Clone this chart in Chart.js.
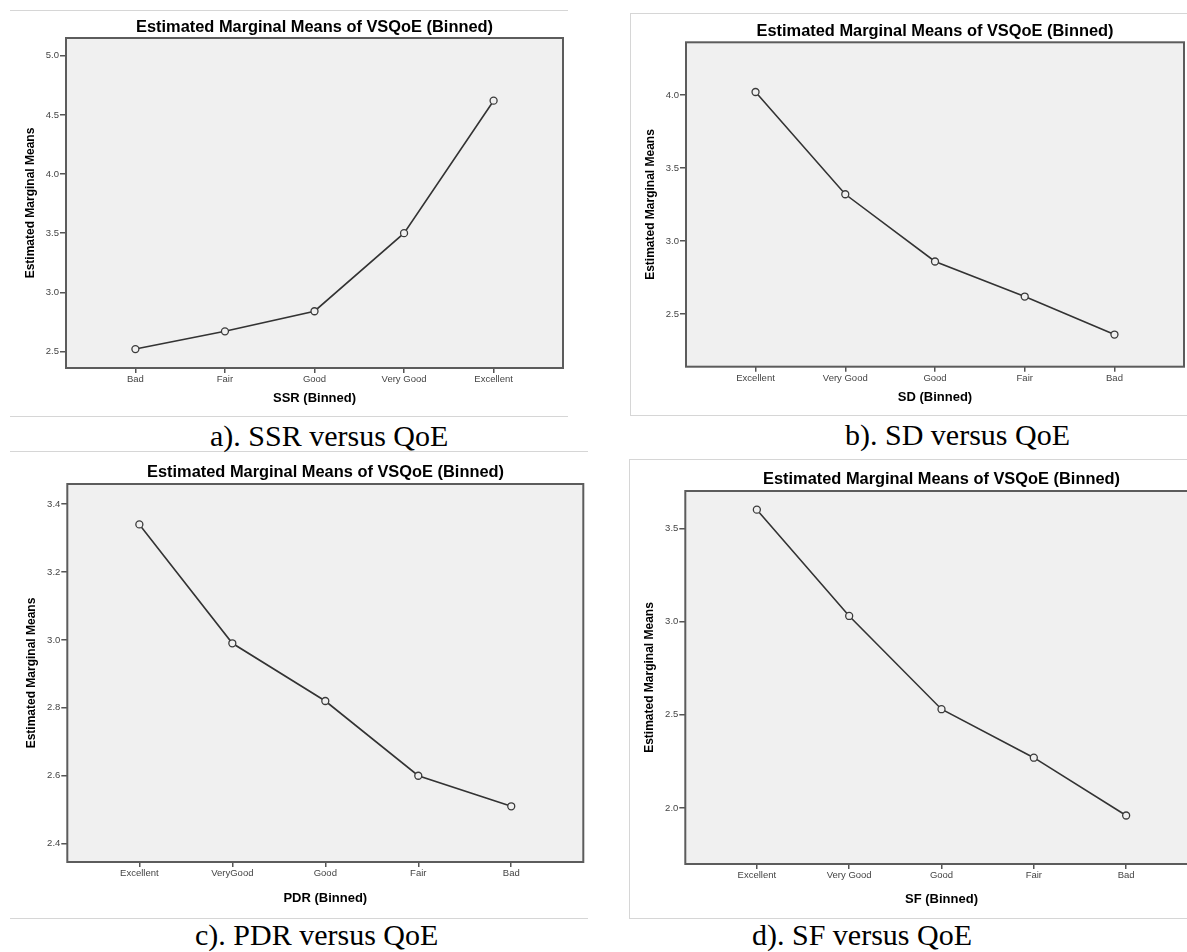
<!DOCTYPE html>
<html>
<head>
<meta charset="utf-8">
<title>Estimated Marginal Means of VSQoE</title>
<script src="https://cdn.jsdelivr.net/npm/chart.js@4.4.0/dist/chart.umd.min.js"></script>
<style>
    html, body {
        margin: 0;
        padding: 0;
        background: #fff;
        width: 1187px;
        height: 952px;
        overflow: hidden;
    }
    body { position: relative; }
    canvas { position: absolute; }
    .rule {
        position: absolute;
        border: 0 solid #d6d6d6;
    }
    .caption {
        position: absolute;
        font-family: 'Liberation Serif', 'Times New Roman', serif;
        font-size: 30px;
        line-height: 1;
        color: #000;
        white-space: nowrap;
    }
</style>
</head>
<body>

<div class="rule" style="left:10px; top:10px; width:558px; height:405px; border-top-width:1px; border-bottom-width:1px;"></div>
<div class="rule" style="left:630px; top:13px; width:600px; height:401px; border-width:1px 0 1px 1px;"></div>
<div class="rule" style="left:10px; top:451px; width:578px; height:466px; border-top-width:1px; border-bottom-width:1px;"></div>
<div class="rule" style="left:629px; top:459px; width:600px; height:458px; border-width:1px 0 1px 1px;"></div>

<div class="caption" style="left:210px; top:421px;">a). SSR versus QoE</div>
<div class="caption" style="left:845px; top:420px;">b). SD versus QoE</div>
<div class="caption" style="left:195px; top:920px;">c). PDR versus QoE</div>
<div class="caption" style="left:752px; top:920px;">d). SF versus QoE</div>

<script>
// Chart Data
const ssrLabels = ['Bad', 'Fair', 'Good', 'Very Good', 'Excellent'];
const ssrMeans = [2.52, 2.67, 2.84, 3.50, 4.62];
const ssrTicks = [2.5, 3.0, 3.5, 4.0, 4.5, 5.0];

const sdLabels = ['Excellent', 'Very Good', 'Good', 'Fair', 'Bad'];
const sdMeans = [4.02, 3.32, 2.86, 2.62, 2.36];
const sdTicks = [2.5, 3.0, 3.5, 4.0];

const pdrLabels = ['Excellent', 'VeryGood', 'Good', 'Fair', 'Bad'];
const pdrMeans = [3.34, 2.99, 2.82, 2.60, 2.51];
const pdrTicks = [2.4, 2.6, 2.8, 3.0, 3.2, 3.4];

const sfLabels = ['Excellent', 'Very Good', 'Good', 'Fair', 'Bad'];
const sfMeans = [3.60, 3.03, 2.53, 2.27, 1.96];
const sfTicks = [2.0, 2.5, 3.0, 3.5];

const chartTitle = 'Estimated Marginal Means of VSQoE (Binned)';
const yTitle = 'Estimated Marginal Means';

const FONT = "'Liberation Sans', Arial, sans-serif";
const TITLE_SIZE = 16.4;
const YTITLE_SIZE = 12;
const XTITLE_SIZE = 13;

// grey plot background + dark frame, like the SPSS output
const plotFrame = {
    id: 'plotFrame',
    beforeDraw(chart) {
        const { ctx, chartArea: a } = chart;
        ctx.save();
        ctx.fillStyle = '#f0f0f0';
        ctx.fillRect(a.left, a.top, a.right - a.left, a.bottom - a.top);
        ctx.restore();
    },
    afterDraw(chart) {
        const { ctx, chartArea: a } = chart;
        ctx.save();
        ctx.strokeStyle = '#5c5c5c';
        ctx.lineWidth = 2;
        ctx.strokeRect(a.left, a.top, a.right - a.left, a.bottom - a.top);
        ctx.restore();
    }
};

// g = where the plot area and the titles sit on the page
function drawPanel(g, labels, means, yTicks, yMin, yMax, xTitle) {
    const left = Math.round(g.yTitleX - YTITLE_SIZE * 0.6);
    const top = Math.round(g.titleY - TITLE_SIZE * 0.6);
    const center = (g.left + g.right) / 2;
    const width = Math.round(2 * (center - left));
    const height = Math.round(g.xTitleY + XTITLE_SIZE * 0.6 - top);

    const canvas = document.createElement('canvas');
    canvas.width = width;
    canvas.height = height;
    canvas.style.left = left + 'px';
    canvas.style.top = top + 'px';
    canvas.style.width = width + 'px';
    canvas.style.height = height + 'px';
    document.body.appendChild(canvas);

    const yWidth = g.left - left;
    const padRight = left + width - g.right;
    const xHeight = top + height - g.bottom;
    const titleGap = g.top - top - TITLE_SIZE * 1.2;

    new Chart(canvas, {
        type: 'line',
        data: {
            datasets: [{
                data: means.map((v, i) => ({ x: i, y: v })),
                borderColor: '#333',
                borderWidth: 1.6,
                tension: 0,
                pointRadius: 3.5,
                pointBorderWidth: 1.3,
                pointBorderColor: '#3a3a3a',
                pointBackgroundColor: '#f0f0f0'
            }]
        },
        options: {
            responsive: false,
            animation: false,
            devicePixelRatio: 1,
            layout: { padding: 0 },
            plugins: {
                legend: { display: false },
                tooltip: { enabled: false },
                title: {
                    display: true,
                    text: chartTitle,
                    color: '#000',
                    font: { family: FONT, size: TITLE_SIZE, weight: 'bold' },
                    padding: { top: 0, bottom: titleGap }
                }
            },
            scales: {
                x: {
                    type: 'linear',
                    min: -0.775,
                    max: labels.length - 1 + 0.775,
                    afterBuildTicks: s => { s.ticks = labels.map((_, i) => ({ value: i })); },
                    afterFit: s => { s.height = xHeight; },
                    ticks: {
                        autoSkip: false,
                        maxRotation: 0,
                        padding: 1,
                        color: '#444',
                        font: { family: FONT, size: 9.5 },
                        callback: v => labels[v]
                    },
                    grid: { drawOnChartArea: false, tickLength: 5, color: '#555', lineWidth: 1.5 },
                    border: { display: false },
                    title: {
                        display: true,
                        text: xTitle,
                        color: '#000',
                        padding: 0,
                        font: { family: FONT, size: XTITLE_SIZE, weight: 'bold' }
                    }
                },
                y: {
                    type: 'linear',
                    min: yMin,
                    max: yMax,
                    afterBuildTicks: s => { s.ticks = yTicks.map(v => ({ value: v })); },
                    afterFit: s => { s.width = yWidth; },
                    ticks: {
                        padding: 1,
                        color: '#444',
                        font: { family: FONT, size: 9.5 },
                        callback: v => v.toFixed(1)
                    },
                    grid: { drawOnChartArea: false, tickLength: 6, color: '#555', lineWidth: 1.5 },
                    border: { display: false },
                    title: {
                        display: true,
                        text: yTitle,
                        color: '#000',
                        padding: 0,
                        font: { family: FONT, size: YTITLE_SIZE, weight: 'bold' }
                    }
                },
                // empty right-hand axis so the chart title centres over the plot
                spacer: {
                    type: 'linear',
                    position: 'right',
                    ticks: { display: false },
                    grid: { display: false },
                    border: { display: false },
                    afterFit: s => { s.width = padRight; }
                }
            }
        },
        plugins: [plotFrame]
    });
}

drawPanel({ left: 66, top: 38, right: 563, bottom: 368, yTitleX: 30, xTitleY: 398, titleY: 28 },
    ssrLabels, ssrMeans, ssrTicks, 2.36, 5.15, 'SSR (Binned)');

drawPanel({ left: 686, top: 42.3, right: 1184, bottom: 366.7, yTitleX: 650.5, xTitleY: 396.7, titleY: 32.3 },
    sdLabels, sdMeans, sdTicks, 2.14, 4.36, 'SD (Binned)');

drawPanel({ left: 67.3, top: 484, right: 583.3, bottom: 862, yTitleX: 31, xTitleY: 898, titleY: 472.7 },
    pdrLabels, pdrMeans, pdrTicks, 2.346, 3.459, 'PDR (Binned)');

drawPanel({ left: 685.3, top: 491, right: 1197.7, bottom: 864, yTitleX: 649, xTitleY: 899, titleY: 480 },
    sfLabels, sfMeans, sfTicks, 1.70, 3.70, 'SF (Binned)');
</script>
</body>
</html>
